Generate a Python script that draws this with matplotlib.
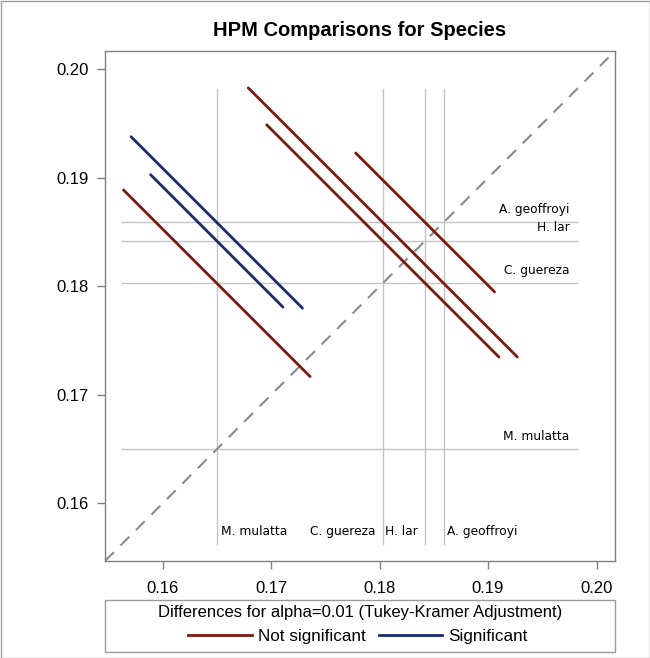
import matplotlib
matplotlib.use("Agg")
import matplotlib.pyplot as plt
from matplotlib.lines import Line2D
from matplotlib.patches import Rectangle

# 物种均值
species = ["M. mulatta", "C. guereza", "H. lar", "A. geoffroyi"]
means = [0.1650, 0.1803, 0.1842, 0.1859]

# 成对比较：x 取第 i 个均值，y 取第 j 个均值，half 为区间半宽
pair_i = [0, 0, 0, 1, 1, 2]
pair_j = [1, 3, 2, 3, 2, 3]
half = [0.0086, 0.0079, 0.0061, 0.0124, 0.0107, 0.0064]
significant = [False, True, True, False, False, False]

ticks = [0.16, 0.17, 0.18, 0.19, 0.20]
tick_labels = ["0.16", "0.17", "0.18", "0.19", "0.20"]

plt.rcParams["font.family"] = ["Liberation Sans", "DejaVu Sans"]

red = "#7a1b10"
blue = "#1c2a70"
ref_gray = "#c4c4c4"
small = dict(fontsize=8.8, family=["DejaVu Sans"])

fig = plt.figure(figsize=(6.5, 6.58), dpi=100)
ax = fig.add_axes([105 / 650, 1 - 561 / 658, 510 / 650, 510 / 658])

lo, hi = 0.1547, 0.2017
ax.set_xlim(lo, hi)
ax.set_ylim(lo, hi)

# 参考线
ref_lo, ref_hi = 0.1563, 0.1982
for k, m in enumerate(means):
    ax.plot([m, m], [ref_lo, ref_hi], color=ref_gray, lw=1, zorder=1)
    ax.plot([ref_lo, ref_hi], [m, m], color=ref_gray, lw=1, zorder=1)
    ax.text(0.1975, m + 0.0012, species[k], ha="right", va="center", **small)

# 底部标签（左右交替放置）
label_side = ["right", "left", "left", "right"]
for k, m in enumerate(means):
    if label_side[k] == "right":
        ax.text(m + 0.00035, 0.15745, species[k], ha="left", va="center", **small)
    else:
        ax.text(m - 0.0007, 0.15745, species[k], ha="right", va="center", **small)

# 对角线
ax.plot([lo, 0.2011], [lo, 0.2011], color="#8c8c8c", lw=1.5,
        dashes=(6, 4.5), zorder=2)

# 差异线段
for a, b, h, s in zip(pair_i, pair_j, half, significant):
    x0, y0 = means[a], means[b]
    ax.plot([x0 - h, x0 + h], [y0 + h, y0 - h], color=blue if s else red,
            lw=2, solid_capstyle="round", zorder=3)

ax.set_xticks(ticks)
ax.set_xticklabels(tick_labels)
ax.set_yticks(ticks)
ax.set_yticklabels(tick_labels)
ax.tick_params(labelsize=12, length=5.5, width=1, color="#808080")
ax.tick_params(axis="x", pad=9)
ax.tick_params(axis="y", pad=6)
for sp in ax.spines.values():
    sp.set_color("#808080")
    sp.set_linewidth(1)

fig.text(360 / 650, 1 - 30 / 658, "HPM Comparisons for Species",
         ha="center", va="center", fontsize=14.5, fontweight="bold")

# 图例框
fig.patches.append(Rectangle((105 / 650, 1 - 652 / 658), 510 / 650, 52 / 658,
                             transform=fig.transFigure, fill=False,
                             edgecolor="#9a9a9a", lw=1))
fig.text(360 / 650, 1 - 613 / 658,
         "Differences for alpha=0.01 (Tukey-Kramer Adjustment)",
         ha="center", va="center", fontsize=12)
handles = [Line2D([], [], color=red, lw=2), Line2D([], [], color=blue, lw=2)]
fig.legend(handles, ["Not significant", "Significant"], loc="center",
           bbox_to_anchor=(358 / 650, 1 - 636 / 658), ncol=2, frameon=False,
           fontsize=12.3, handlelength=3.7, handletextpad=0.35, columnspacing=0.8,
           borderaxespad=0, borderpad=0)

# 外边框
fig.patches.append(Rectangle((0.5 / 650, 0.5 / 658), 649 / 650, 657 / 658,
                             transform=fig.transFigure, fill=False,
                             edgecolor="#a0a0a0", lw=1))

fig.savefig("out.png", dpi=100)
